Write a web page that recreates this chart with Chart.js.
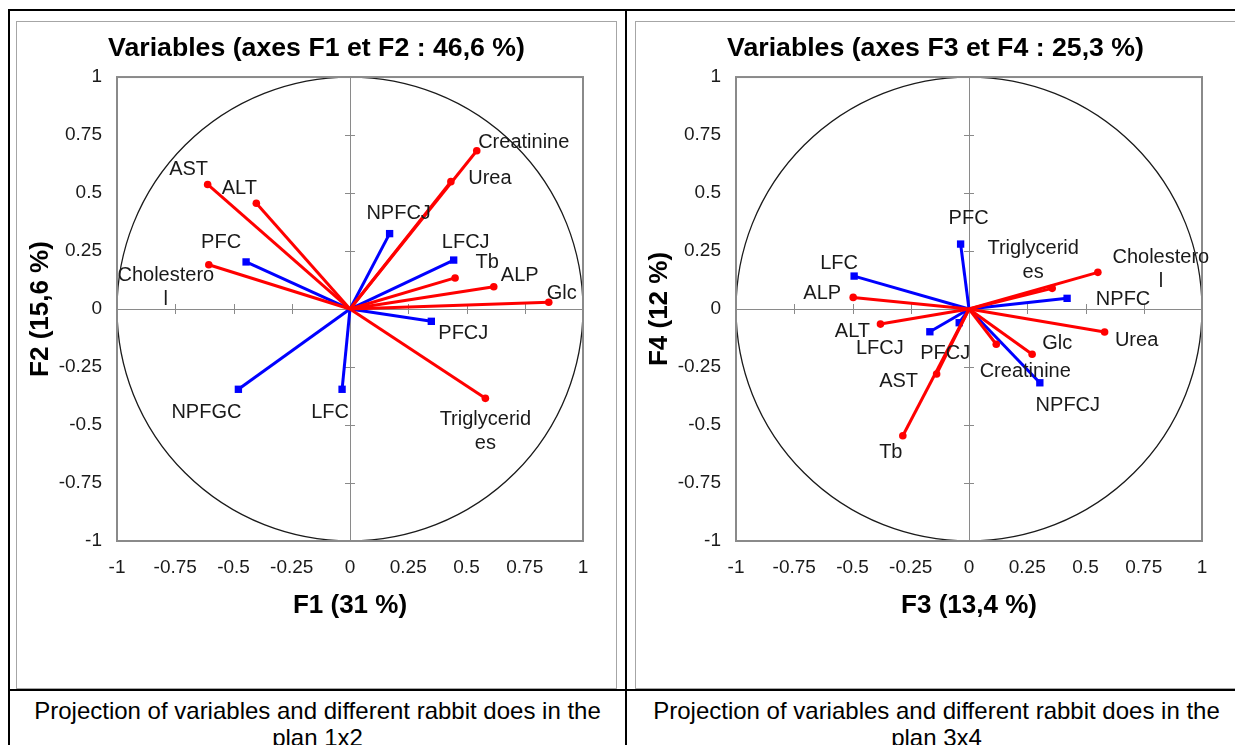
<!DOCTYPE html>
<html><head><meta charset="utf-8">
<script src="https://cdn.jsdelivr.net/npm/chart.js@4.4.1/dist/chart.umd.min.js"></script>
<style>
html,body{margin:0;padding:0;background:#fff;overflow:hidden;width:1235px;height:745px;}
.bl{position:absolute;background:#000;}
.frame{position:absolute;border:1px solid #a6a6a6;box-sizing:border-box;}
canvas{position:absolute;}
.cap{position:absolute;top:697px;font-family:'Liberation Sans',Arial,sans-serif;font-size:24px;line-height:27px;text-align:center;color:#000;}
</style></head><body>
<div class="bl" style="left:8px;top:9px;width:1227px;height:2px"></div>
<div class="bl" style="left:8px;top:9px;width:2px;height:736px"></div>
<div class="bl" style="left:625px;top:9px;width:2px;height:736px"></div>
<div class="bl" style="left:8px;top:689px;width:1227px;height:2px"></div>
<div class="frame" style="left:16px;top:21px;width:601px;height:668px"></div>
<div class="frame" style="left:635px;top:21px;width:610px;height:668px"></div>
<canvas id="c1" width="599" height="666" style="left:17px;top:22px;width:599px;height:666px"></canvas>
<canvas id="c2" width="599" height="666" style="left:636px;top:22px;width:599px;height:666px"></canvas>
<div class="cap" style="left:10px;width:615px">Projection of variables and different rabbit does in the<br>plan 1x2</div>
<div class="cap" style="left:627px;width:619px">Projection of variables and different rabbit does in the<br>plan 3x4</div>
<script>
// ---- data: plan 1x2 ----
const redNames1 = ['AST','ALT','Cholesterol','Creatinine','Urea','Tb','ALP','Glc','Triglycerides'];
const redF1 = [-0.611, -0.402, -0.606, 0.544, 0.433, 0.451, 0.617, 0.853, 0.581];
const redF2 = [0.537, 0.456, 0.191, 0.682, 0.549, 0.134, 0.096, 0.029, -0.385];
const blueNames1 = ['PFC','NPFCJ','LFCJ','PFCJ','NPFGC','LFC'];
const blueF1 = [-0.446, 0.170, 0.445, 0.349, -0.479, -0.034];
const blueF2 = [0.203, 0.325, 0.211, -0.053, -0.346, -0.346];
// ---- data: plan 3x4 ----
const redNames2 = ['ALP','Cholesterol','Triglycerides','ALT','AST','Tb','Urea','Glc','Creatinine'];
const redF3 = [-0.497, 0.553, 0.357, -0.380, -0.139, -0.284, 0.582, 0.271, 0.117];
const redF4 = [0.050, 0.158, 0.089, -0.065, -0.280, -0.546, -0.099, -0.195, -0.152];
const blueNames2 = ['PFC','LFC','NPFC','LFCJ','PFCJ','NPFCJ'];
const blueF3 = [-0.036, -0.493, 0.421, -0.168, -0.042, 0.304];
const blueF4 = [0.280, 0.142, 0.046, -0.098, -0.059, -0.318];
// ---- tick labels ----
const tickValues = [-1, -0.75, -0.5, -0.25, 0, 0.25, 0.5, 0.75, 1];
// label text as wrapped in the figure
const wrapped = {'Cholesterol':['Cholestero','l'], 'Triglycerides':['Triglycerid','es']};
// label placement (pixel offsets from the point)
const redOff1 = [[-19,-15],[-17,-15],[-43,11],[47,-8],[39,-3],[32,-15],[26,-11],[13,-9],[0,21]];
const blueOff1 = [[-25,-19],[9,-20],[12,-18],[32,12],[-32,23],[-12,23]];
const redOff2 = [[-31,-4],[63,-15],[-19,-40],[-28,7],[-38,8],[-12,17],[32,8],[25,-11],[29,27]];
const blueOff2 = [[8,-26],[-15,-13],[56,1],[-50,17],[-14,31],[28,23]];

const FONT = "'Liberation Sans', Arial, sans-serif";

function makeChart(id, title, xTitle, yTitle, rn, rx, ry, roff, bn, bx, by, boff) {
  const datasets = [];
  const labels = [];
  rn.forEach((n, i) => {
    datasets.push({label: n, data: [{x:0,y:0},{x:rx[i],y:ry[i]}], showLine: true,
      borderColor: '#ff0000', backgroundColor: '#ff0000', borderWidth: 3,
      pointRadius: [0, 3.8], pointStyle: 'circle', pointBorderWidth: 0, pointHoverRadius: 0});
    labels.push({x: rx[i], y: ry[i], t: wrapped[n] || [n], o: roff[i]});
  });
  bn.forEach((n, i) => {
    datasets.push({label: n, data: [{x:0,y:0},{x:bx[i],y:by[i]}], showLine: true,
      borderColor: '#0000ff', backgroundColor: '#0000ff', borderWidth: 3,
      pointRadius: [0, 5.2], pointStyle: 'rect', pointBorderWidth: 0, pointHoverRadius: 0});
    labels.push({x: bx[i], y: by[i], t: wrapped[n] || [n], o: boff[i]});
  });
  const decor = {
    id: 'decor',
    beforeDatasetsDraw(chart) {
      const {ctx, chartArea: a, scales: {x, y}} = chart;
      const x0 = x.getPixelForValue(0), y0 = y.getPixelForValue(0);
      const rX = x.getPixelForValue(1) - x0, rY = y0 - y.getPixelForValue(1);
      ctx.save();
      ctx.strokeStyle = '#8a8a8a'; ctx.lineWidth = 1;
      tickValues.forEach(v => {
        if (v === 0 || Math.abs(v) === 1) return;
        const px = Math.round(x.getPixelForValue(v)) + 0.5;
        ctx.beginPath(); ctx.moveTo(px, y0 - 5); ctx.lineTo(px, y0 + 5); ctx.stroke();
        const py = Math.round(y.getPixelForValue(v)) + 0.5;
        ctx.beginPath(); ctx.moveTo(x0 - 5, py); ctx.lineTo(x0 + 5, py); ctx.stroke();
      });
      ctx.beginPath(); ctx.ellipse(x0, y0, rX, rY, 0, 0, Math.PI * 2);
      ctx.strokeStyle = '#1a1a1a'; ctx.lineWidth = 1.3; ctx.stroke();
      ctx.strokeStyle = '#8a8a8a'; ctx.lineWidth = 2;
      ctx.strokeRect(a.left, a.top, a.width, a.height);
      ctx.restore();
    },
    afterDatasetsDraw(chart) {
      const {ctx, scales: {x, y}} = chart;
      ctx.save();
      ctx.font = '20px ' + FONT; ctx.fillStyle = '#1a1a1a';
      ctx.textAlign = 'center'; ctx.textBaseline = 'middle';
      labels.forEach(l => {
        const px = x.getPixelForValue(l.x) + l.o[0];
        const py = y.getPixelForValue(l.y) + l.o[1];
        l.t.forEach((s, k) => ctx.fillText(s, px, py + k * 24));
      });
      ctx.restore();
    }
  };
  const fmt = v => String(+Number(v).toFixed(2));
  const grid = {color: c => (c.tick && c.tick.value === 0) ? '#8a8a8a' : 'rgba(0,0,0,0)', lineWidth: 1, drawTicks: false};
  return new Chart(document.getElementById(id), {
    type: 'scatter',
    data: {datasets},
    options: {
      responsive: false, animation: false, devicePixelRatio: 1,
      events: [],
      layout: {padding: {left: 0, right: 0, top: 0, bottom: 65}},
      plugins: {
        legend: {display: false}, tooltip: {enabled: false},
        title: {display: true, text: title, color: '#000',
          font: {family: FONT, size: 26.7, weight: 'bold'}, padding: {top: 11, bottom: 12}}
      },
      scales: {
        x: {type: 'linear', position: 'bottom', min: -1, max: 1,
          afterBuildTicks: s => { s.ticks = tickValues.map(v => ({value: v})); },
          ticks: {callback: fmt, color: '#1a1a1a', font: {family: FONT, size: 19}, padding: 15, maxRotation: 0, autoSkip: false},
          grid, border: {display: false},
          title: {display: true, text: xTitle, color: '#000', font: {family: FONT, size: 26, weight: 'bold'}, padding: {top: 0, bottom: 2}},
          afterFit: s => { s.height = 82; }
        },
        y: {type: 'linear', position: 'left', min: -1, max: 1,
          afterBuildTicks: s => { s.ticks = tickValues.map(v => ({value: v})); },
          ticks: {callback: fmt, color: '#1a1a1a', font: {family: FONT, size: 19}, padding: 15, autoSkip: false},
          grid, border: {display: false},
          title: {display: true, text: yTitle, color: '#000', font: {family: FONT, size: 26, weight: 'bold'}, padding: {top: 8, bottom: 0}},
          afterFit: s => { s.width = 100; }
        },
        yRight: {type: 'linear', position: 'right', min: -1, max: 1,
          ticks: {display: false}, grid: {display: false}, border: {display: false},
          afterFit: s => { s.width = 33; }
        }
      }
    },
    plugins: [decor]
  });
}

makeChart('c1', 'Variables (axes F1 et F2 : 46,6 %)', 'F1 (31 %)', 'F2 (15,6 %)',
  redNames1, redF1, redF2, redOff1, blueNames1, blueF1, blueF2, blueOff1);
makeChart('c2', 'Variables (axes F3 et F4 : 25,3 %)', 'F3 (13,4 %)', 'F4 (12 %)',
  redNames2, redF3, redF4, redOff2, blueNames2, blueF3, blueF4, blueOff2);
</script>
</body></html>
